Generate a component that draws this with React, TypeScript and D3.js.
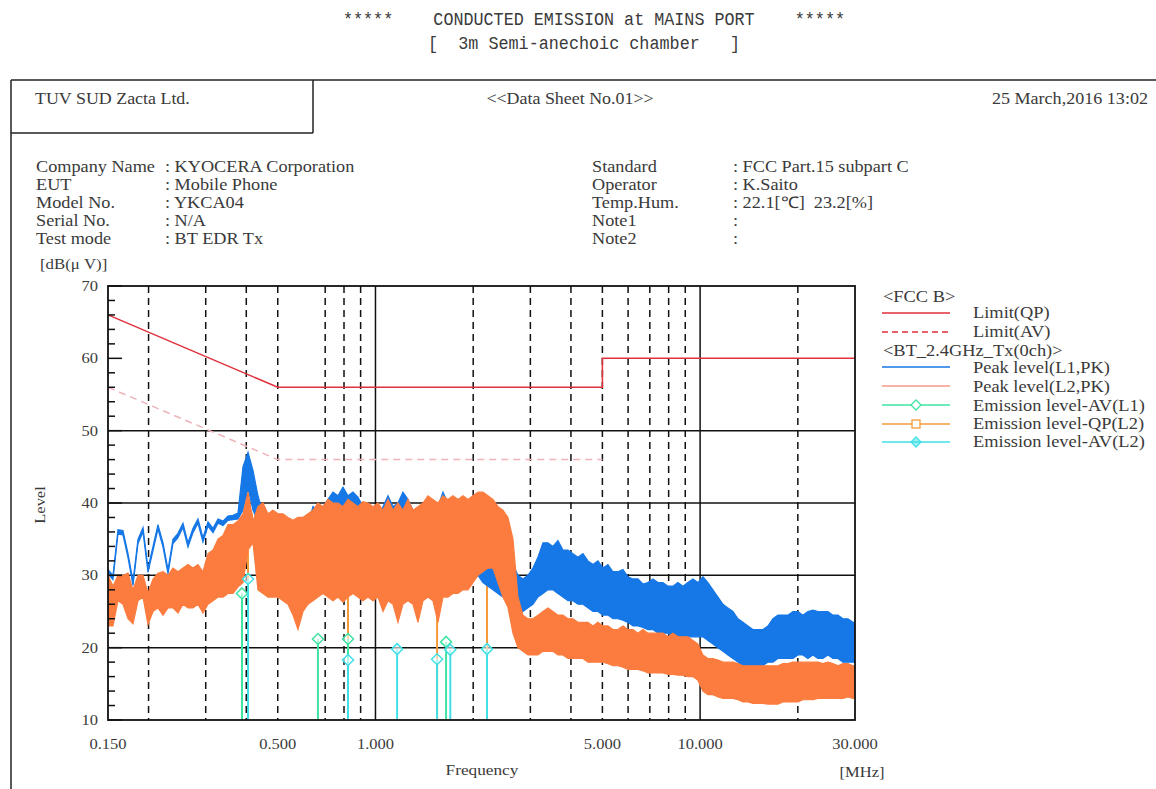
import React from "react";
import * as d3 from "d3";

// ---------- DATA ----------
// Frequency grid of the two peak traces (MHz)
const traceFreq = [
  0.1500, 0.1554, 0.1610, 0.1668, 0.1729, 0.1791, 0.1856, 0.1923, 0.1992, 0.2064,
  0.2138, 0.2216, 0.2296, 0.2378, 0.2464, 0.2553, 0.2645, 0.2741, 0.2840, 0.2942,
  0.3049, 0.3159, 0.3273, 0.3391, 0.3513, 0.3640, 0.3771, 0.3907, 0.4049, 0.4195,
  0.4346, 0.4503, 0.4665, 0.4834, 0.5008, 0.5189, 0.5376, 0.5571, 0.5772, 0.5980,
  0.6196, 0.6419, 0.6651, 0.6891, 0.7140, 0.7398, 0.7665, 0.7941, 0.8228, 0.8525,
  0.8833, 0.9152, 0.9482, 0.9824, 1.018, 1.055, 1.093, 1.132, 1.173, 1.215,
  1.259, 1.305, 1.352, 1.401, 1.451, 1.503, 1.558, 1.614, 1.672, 1.733,
  1.795, 1.860, 1.927, 1.997, 2.069, 2.143, 2.221, 2.301, 2.384, 2.470,
  2.559, 2.652, 2.747, 2.846, 2.949, 3.056, 3.166, 3.280, 3.399, 3.521,
  3.648, 3.780, 3.916, 4.058, 4.204, 4.356, 4.513, 4.676, 4.845, 5.020,
  5.201, 5.389, 5.583, 5.785, 5.994, 6.210, 6.434, 6.666, 6.907, 7.156,
  7.415, 7.682, 7.960, 8.247, 8.545, 8.853, 9.173, 9.504, 9.847, 10.20,
  10.57, 10.95, 11.35, 11.76, 12.18, 12.62, 13.08, 13.55, 14.04, 14.54,
  15.07, 15.61, 16.18, 16.76, 17.37, 17.99, 18.64, 19.32, 20.01, 20.73,
  21.48, 22.26, 23.06, 23.89, 24.76, 25.65, 26.58, 27.54, 28.53, 29.56,
  30.0,
];

// Peak level (L1,PK) envelope, dB(uV)
const l1Hi = [
  30.8, 30.0, 36.3, 36.2, 33.0, 29.2, 35.0, 36.6, 31.0, 34.0,
  37.0, 34.5, 30.8, 35.0, 35.8, 37.2, 34.5, 36.5, 37.8, 35.2,
  37.4, 36.5, 37.8, 37.5, 38.2, 38.3, 38.6, 45.0, 47.0, 44.5,
  41.0, 38.5, 37.3, 37.0, 36.5, 37.0, 37.5, 36.0, 37.0, 38.0,
  37.0, 39.5, 39.0, 39.5, 40.5, 41.5, 41.0, 42.2, 41.0, 41.5,
  40.8, 39.5, 38.0, 37.5, 37.5, 39.5, 41.0, 39.5, 40.0, 41.5,
  40.5, 39.0, 38.5, 39.5, 40.0, 38.5, 39.5, 41.5, 40.0, 39.0,
  40.5, 39.0, 38.0, 38.5, 37.5, 36.0, 35.0, 34.0, 33.0, 32.5,
  32.0, 31.5, 30.0, 29.5, 30.0, 31.0, 32.5, 34.5, 34.5, 34.0,
  34.8, 33.5, 33.5, 33.0, 32.5, 33.0, 32.0, 31.5, 32.0, 31.0,
  31.5, 30.5, 30.5, 30.8, 29.8, 29.5, 29.5, 28.8, 29.0, 29.5,
  29.0, 29.0, 28.5, 28.5, 29.0, 28.5, 29.0, 29.5, 29.0, 29.8,
  29.0, 28.0, 27.0, 26.0, 25.5, 25.0, 24.0, 23.5, 23.0, 22.5,
  22.5, 22.5, 23.0, 24.0, 24.5, 24.5, 24.5, 25.0, 25.0, 24.5,
  25.0, 25.2, 25.0, 25.0, 25.0, 24.5, 24.5, 24.0, 24.0, 23.5,
  23.5,
];
const l1Lo = [
  30.2, 29.4, 35.7, 35.6, 32.4, 28.6, 34.4, 36.0, 30.4, 33.4,
  36.4, 33.9, 30.2, 34.4, 35.2, 36.6, 33.9, 35.9, 37.2, 34.6,
  36.8, 35.9, 37.2, 36.9, 37.6, 37.7, 37.8, 39.0, 42.0, 39.0,
  37.5, 35.0, 33.0, 32.0, 31.0, 31.0, 31.0, 30.0, 30.5, 31.0,
  31.0, 32.0, 31.0, 32.0, 32.0, 33.0, 32.0, 33.0, 32.0, 32.0,
  31.0, 31.0, 31.0, 30.0, 30.0, 31.0, 31.0, 31.0, 31.0, 31.0,
  31.0, 30.0, 30.0, 31.0, 31.0, 31.0, 31.0, 32.0, 32.0, 32.0,
  32.0, 31.0, 31.0, 31.0, 30.0, 29.0, 28.5, 28.0, 27.5, 27.0,
  26.5, 26.0, 25.5, 25.0, 25.5, 26.0, 27.0, 27.5, 28.0, 28.0,
  27.5, 27.0, 26.5, 26.5, 26.0, 26.0, 25.5, 25.0, 25.0, 24.5,
  24.5, 24.0, 24.0, 23.8, 23.5, 23.0, 23.0, 22.8, 22.5, 22.5,
  22.0, 22.0, 22.0, 21.5, 21.5, 21.5, 21.5, 21.5, 21.5, 21.5,
  21.0, 20.5, 20.0, 19.5, 19.0, 18.5, 18.0, 17.5, 17.5, 17.5,
  17.5, 17.5, 18.0, 18.0, 18.5, 18.5, 18.5, 18.5, 19.0, 19.0,
  18.5, 19.0, 18.5, 18.5, 19.0, 18.5, 18.5, 18.0, 18.0, 18.0,
  18.0,
];

// Peak level (L2,PK) envelope, dB(uV)
const l2Hi = [
  30.0, 28.5, 30.0, 30.0, 30.3, 28.0, 30.0, 30.0, 27.5, 29.5,
  30.3, 30.5, 30.0, 31.0, 30.5, 31.0, 31.5, 31.0, 31.5, 30.5,
  33.0, 33.5, 35.0, 35.5, 37.0, 37.0, 37.5, 38.5, 41.5, 37.5,
  39.5, 40.0, 38.5, 39.0, 38.5, 38.5, 38.0, 37.6, 38.0, 38.0,
  38.5, 39.0, 40.0, 39.5, 40.5, 40.0, 40.0, 39.5, 40.5, 40.0,
  39.5, 40.2, 40.0, 39.5, 40.0, 39.0, 40.5, 39.0, 40.0, 39.0,
  40.5, 39.0, 39.5, 40.0, 41.0, 40.5, 40.0, 41.0, 40.5, 41.0,
  40.5, 41.0, 40.5, 41.0, 41.5, 41.5, 41.0, 40.5, 39.5, 39.0,
  38.0, 35.0, 27.0, 24.5, 24.0, 24.0, 24.5, 25.0, 25.5, 25.0,
  24.5, 24.5, 24.0, 24.0, 23.5, 23.5, 23.5, 23.0, 23.5, 23.0,
  23.0, 22.5, 22.5, 23.0, 22.5, 22.5, 22.0, 22.5, 22.0, 22.0,
  22.0, 22.0, 21.5, 22.0, 21.5, 21.5, 21.5, 21.0, 20.5, 19.0,
  18.5, 18.5, 18.3, 18.0, 18.0, 18.0, 17.8, 17.5, 17.5, 17.5,
  17.5, 17.5, 17.5, 17.5, 17.5, 17.8, 17.8, 18.0, 18.0, 18.0,
  18.0, 18.0, 18.0, 17.8, 18.0, 17.8, 17.5, 17.8, 17.8, 17.5,
  17.5,
];
const l2Lo = [
  23.0, 23.0, 26.5, 26.0, 24.0, 23.3, 26.5, 27.0, 23.2, 25.0,
  25.5, 24.5, 25.5, 25.5, 24.8, 26.0, 25.5, 25.5, 26.0, 24.8,
  26.0, 26.5, 27.0, 27.0, 27.5, 27.5, 28.4, 29.0, 33.5, 34.5,
  28.0, 27.5, 27.0, 27.0, 27.0, 26.5, 26.0, 24.5, 22.5, 25.0,
  26.0, 26.5, 27.0, 27.5, 27.0, 26.5, 27.0, 26.3, 27.0, 27.5,
  27.0, 26.5, 27.0, 26.5, 27.0, 25.0, 26.5, 26.0, 23.5, 26.0,
  26.5, 26.0, 23.5, 26.5, 27.0, 26.5, 23.5, 27.0, 27.0, 27.5,
  27.5, 28.0, 28.0, 29.0, 30.0, 30.5, 31.0, 31.0, 29.0, 27.0,
  25.6, 22.0, 20.0, 19.5, 19.0, 19.0, 19.0, 19.5, 19.5, 19.5,
  19.0, 19.0, 18.5, 18.5, 18.5, 18.5, 18.0, 18.0, 18.0, 18.0,
  17.8, 17.5, 17.5, 17.3, 17.0, 17.0, 17.0, 16.8, 16.5, 16.5,
  16.5, 16.5, 16.3, 16.3, 16.2, 16.2, 16.0, 16.0, 15.5, 14.0,
  13.5, 13.5, 13.2, 13.0, 13.0, 13.0, 12.8, 12.5, 12.5, 12.3,
  12.3, 12.3, 12.2, 12.2, 12.2, 12.5, 12.5, 12.5, 12.5, 12.8,
  12.8, 12.8, 13.0, 13.0, 13.0, 13.0, 13.0, 13.0, 13.2, 13.0,
  13.0,
];

// FCC class B limits
const limitQpFreq = [0.15, 0.5, 5, 5, 30];
const limitQpVal = [66, 56, 56, 60, 60];
const limitAvFreq = [0.15, 0.5, 5];
const limitAvVal = [56, 46, 46];

// Final measurements
const avL1Freq = [0.388, 0.665, 0.823, 1.65];
const avL1Val = [27.5, 21.2, 21.2, 20.8];
const qpL2Freq = [0.405, 0.823, 1.548, 2.206];
const qpL2Val = [38.0, 32.0, 33.0, 36.0];
const avL2Freq = [0.405, 0.823, 1.166, 1.548, 1.70, 2.206];
const avL2Val = [29.5, 18.3, 19.8, 18.4, 19.7, 19.8];

// Axes / grid
const yMajorTicks = [10, 20, 30, 40, 50, 60, 70];
const yMinorTicks = d3.range(12, 70, 2).filter((v) => v % 10 !== 0);
const yGridLines = [20, 30, 40, 50];
const xTickVals = [0.15, 0.5, 1, 5, 10, 30];
const xTickLabels = ["0.150", "0.500", "1.000", "5.000", "10.000", "30.000"];
const xGridDashed = [0.2, 0.3, 0.4, 0.5, 0.7, 0.8, 0.9, 2, 3, 4, 5, 6, 7, 8, 9, 20];
const xGridSolid = [1, 10];

const infoLeftLabels = ["Company Name", "EUT", "Model No.", "Serial No.", "Test mode"];
const infoLeftValues = [": KYOCERA Corporation", ": Mobile Phone", ": YKCA04", ": N/A", ": BT EDR Tx"];
const infoRightLabels = ["Standard", "Operator", "Temp.Hum.", "Note1", "Note2"];
const infoRightValues = [": FCC Part.15 subpart C", ": K.Saito", ": 22.1[\u2103]  23.2[%]", ":", ":"];

// ---------- STYLE ----------
const SERIF = "'Liberation Serif', 'Times New Roman', serif";
const MONO = "'Liberation Mono', 'DejaVu Sans Mono', monospace";
const TXT = "#3a3a3a";
const C_RED = "#e0313d";
const C_AV_LIMIT = "#eeb2b8";
const C_BLUE = "#1677e6";
const C_ORANGE = "#fb7c3e";
const C_AVL1 = "#3fe3a2";
const C_QPL2 = "#f39a3a";
const C_AVL2 = "#3fe0e6";

const X0 = 108, X1 = 855, Y0 = 286, Y1 = 720;
const x = d3.scaleLog().domain([0.15, 30]).range([X0, X1]);
const y = d3.scaleLinear().domain([10, 70]).range([Y1, Y0]);

type TP = {
  x: number; y: number; children: React.ReactNode; anchor?: "start" | "middle" | "end";
  size?: number; sx?: number; fill?: string; rotate?: number; family?: string;
};
const T = ({ x: tx, y: ty, children, anchor = "start", size = 16, sx = 1.14, fill = TXT, rotate = 0, family = SERIF }: TP) => (
  <text
    transform={`translate(${tx},${ty})${rotate ? ` rotate(${rotate})` : ""} scale(${sx},1)`}
    textAnchor={anchor}
    fontSize={size}
    fontFamily={family}
    fill={fill}
    style={{ whiteSpace: "pre" }}
  >
    {children}
  </text>
);

const idx = traceFreq.map((_, i) => i);
function bandPath(hi: number[], lo: number[]) {
  return d3
    .area<number>()
    .x((i) => x(traceFreq[i]))
    .y0((i) => y(lo[i]))
    .y1((i) => y(hi[i]))(idx) as string;
}
function edgePath(vals: number[]) {
  return d3
    .line<number>()
    .x((i) => x(traceFreq[i]))
    .y((i) => y(vals[i]))(idx) as string;
}
function limitPath(fs: number[], vs: number[]) {
  return d3
    .line<number>()
    .x((i) => x(fs[i]))
    .y((i) => y(vs[i]))(fs.map((_, i) => i)) as string;
}
const diamond = (cx: number, cy: number, r = 5) => `M${cx},${cy - r}L${cx + r},${cy}L${cx},${cy + r}L${cx - r},${cy}Z`;

export default function App() {
  const infoY = [172, 190, 208, 226, 244];
  const legendX0 = 882, legendX1 = 950, legendMid = 916, legendTX = 973;
  return (
    <svg
      width={1156}
      height={789}
      style={{ position: "absolute", left: 0, top: 0, background: "#fff" }}
      xmlns="http://www.w3.org/2000/svg"
    >
      <rect x={0} y={0} width={1156} height={789} fill="#fff" />

      {/* Titles */}
      <text
        transform="translate(594,25) scale(1,1.3)"
        textAnchor="middle"
        fontFamily={MONO}
        fontSize={14}
        fill={TXT}
        textLength={502}
        lengthAdjust="spacingAndGlyphs"
        style={{ whiteSpace: "pre" }}
      >
        {"*****    CONDUCTED EMISSION at MAINS PORT    *****"}
      </text>
      <text
        transform="translate(584,49) scale(1,1.3)"
        textAnchor="middle"
        fontFamily={MONO}
        fontSize={14}
        fill={TXT}
        textLength={312}
        lengthAdjust="spacingAndGlyphs"
        style={{ whiteSpace: "pre" }}
      >
        {"[  3m Semi-anechoic chamber   ]"}
      </text>

      {/* Frame */}
      <line x1={11} y1={80} x2={1156} y2={80} stroke="#222" strokeWidth={1.5} />
      <line x1={11} y1={80} x2={11} y2={789} stroke="#222" strokeWidth={1.5} />
      <line x1={11} y1={133} x2={313} y2={133} stroke="#222" strokeWidth={1.5} />
      <line x1={313} y1={80} x2={313} y2={133} stroke="#222" strokeWidth={1.5} />

      <T x={35} y={104} sx={1.12}>TUV SUD Zacta Ltd.</T>
      <T x={570} y={104} anchor="middle" sx={1.12}>{"<<Data Sheet No.01>>"}</T>
      <T x={1148} y={104} anchor="end" sx={1.13}>25 March,2016 13:02</T>

      {infoLeftLabels.map((s, i) => (
        <T key={"ll" + i} x={36} y={infoY[i]}>{s}</T>
      ))}
      {infoLeftValues.map((s, i) => (
        <T key={"lv" + i} x={165} y={infoY[i]}>{s}</T>
      ))}
      {infoRightLabels.map((s, i) => (
        <T key={"rl" + i} x={592} y={infoY[i]}>{s}</T>
      ))}
      {infoRightValues.map((s, i) => (
        <T key={"rv" + i} x={733} y={infoY[i]}>{s}</T>
      ))}

      <T x={40} y={269} size={15} sx={1.12}>[dB(μ V)]</T>

      {/* Grid */}
      {yGridLines.map((v) => (
        <line key={"hg" + v} x1={X0} x2={X1} y1={y(v)} y2={y(v)} stroke="#111" strokeWidth={1.5} />
      ))}
      {xGridDashed.map((f) => (
        <line key={"vd" + f} x1={x(f)} x2={x(f)} y1={Y0} y2={Y1} stroke="#111" strokeWidth={1.5} strokeDasharray="7,5" />
      ))}
      {xGridSolid.map((f) => (
        <line key={"vs" + f} x1={x(f)} x2={x(f)} y1={Y0} y2={Y1} stroke="#111" strokeWidth={1.5} />
      ))}

      {/* QP(L2) sticks sit beneath the traces */}
      {qpL2Freq.map((f, i) => (
        <g key={"qp" + i}>
          <line x1={x(f)} x2={x(f)} y1={Y1} y2={y(qpL2Val[i])} stroke={C_QPL2} strokeWidth={2} />
          <rect x={x(f) - 4} y={y(qpL2Val[i]) - 4} width={8} height={8} fill="none" stroke={C_QPL2} strokeWidth={1.5} />
        </g>
      ))}

      {/* Traces */}
      <path d={bandPath(l1Hi, l1Lo)} fill={C_BLUE} stroke="none" />
      <path d={edgePath(l1Hi)} fill="none" stroke={C_BLUE} strokeWidth={1.2} />
      <path d={edgePath(l1Lo)} fill="none" stroke={C_BLUE} strokeWidth={1.2} />
      <path d={bandPath(l2Hi, l2Lo)} fill={C_ORANGE} stroke="none" />
      <path d={edgePath(l2Hi)} fill="none" stroke={C_ORANGE} strokeWidth={1.2} />
      <path d={edgePath(l2Lo)} fill="none" stroke={C_ORANGE} strokeWidth={1.2} />

      {/* AV sticks */}
      {avL1Freq.map((f, i) => (
        <g key={"a1" + i}>
          <line x1={x(f)} x2={x(f)} y1={Y1} y2={y(avL1Val[i])} stroke={C_AVL1} strokeWidth={2} />
          <path d={diamond(x(f), y(avL1Val[i]), 5.5)} fill="#fff" fillOpacity={0.6} stroke={C_AVL1} strokeWidth={1.5} />
        </g>
      ))}
      {avL2Freq.map((f, i) => (
        <g key={"a2" + i}>
          <line x1={x(f)} x2={x(f)} y1={Y1} y2={y(avL2Val[i])} stroke={C_AVL2} strokeWidth={2} />
          <path d={diamond(x(f), y(avL2Val[i]), 5.5)} fill="#fff" fillOpacity={0.6} stroke={C_AVL2} strokeWidth={1.5} />
        </g>
      ))}

      {/* Limits */}
      <path d={limitPath(limitAvFreq, limitAvVal)} fill="none" stroke={C_AV_LIMIT} strokeWidth={1.5} strokeDasharray="7,5" />
      <path d={limitPath(limitQpFreq, limitQpVal)} fill="none" stroke={C_RED} strokeWidth={1.5} />

      {/* Axes frame */}
      <rect x={X0} y={Y0} width={X1 - X0} height={Y1 - Y0} fill="none" stroke="#111" strokeWidth={1.8} />
      {yMajorTicks.map((v) => (
        <line key={"ymt" + v} x1={X0} x2={X0 + 14} y1={y(v)} y2={y(v)} stroke="#111" strokeWidth={1.5} />
      ))}
      {yMinorTicks.map((v) => (
        <line key={"ymn" + v} x1={X0} x2={X0 + 7} y1={y(v)} y2={y(v)} stroke="#111" strokeWidth={1.5} />
      ))}
      {yMajorTicks.map((v) => (
        <T key={"yl" + v} x={98} y={y(v) + 5} anchor="end" size={15} sx={1.1}>{String(v)}</T>
      ))}
      {xTickVals.map((f, i) => (
        <T key={"xl" + i} x={x(f)} y={749} anchor="middle" size={15} sx={1.1}>{xTickLabels[i]}</T>
      ))}
      <T x={482} y={775} anchor="middle" size={15} sx={1.15}>Frequency</T>
      <T x={862} y={777} anchor="middle" size={15} sx={1.1}>[MHz]</T>
      <T x={45} y={505} anchor="middle" size={15} sx={1.1} rotate={-90}>Level</T>

      {/* Legend */}
      <T x={883} y={302} size={16} sx={1.15}>{"<FCC B>"}</T>
      <line x1={legendX0} x2={legendX1} y1={313} y2={313} stroke={C_RED} strokeWidth={1.5} />
      <T x={legendTX} y={318} size={16} sx={1.15}>Limit(QP)</T>
      <line x1={legendX0} x2={legendX1} y1={332} y2={332} stroke={C_RED} strokeWidth={1.5} strokeDasharray="6,4" />
      <T x={legendTX} y={337} size={16} sx={1.15}>Limit(AV)</T>
      <T x={883} y={356} size={16} sx={1.15}>{"<BT_2.4GHz_Tx(0ch)>"}</T>
      <line x1={legendX0} x2={legendX1} y1={367} y2={367} stroke={C_BLUE} strokeWidth={1.5} />
      <T x={legendTX} y={373} size={16} sx={1.15}>Peak level(L1,PK)</T>
      <line x1={legendX0} x2={legendX1} y1={386} y2={386} stroke="#f39a84" strokeWidth={1.5} />
      <T x={legendTX} y={392} size={16} sx={1.15}>Peak level(L2,PK)</T>
      <line x1={legendX0} x2={legendX1} y1={405} y2={405} stroke={C_AVL1} strokeWidth={1.5} />
      <path d={diamond(legendMid, 405, 5)} fill="#fff" stroke={C_AVL1} strokeWidth={1.3} />
      <T x={legendTX} y={411} size={16} sx={1.15}>Emission level-AV(L1)</T>
      <line x1={legendX0} x2={legendX1} y1={424} y2={424} stroke={C_QPL2} strokeWidth={1.5} />
      <rect x={legendMid - 4} y={420} width={8} height={8} fill="#fff" stroke={C_QPL2} strokeWidth={1.3} />
      <T x={legendTX} y={429} size={16} sx={1.15}>Emission level-QP(L2)</T>
      <line x1={legendX0} x2={legendX1} y1={442} y2={442} stroke={C_AVL2} strokeWidth={1.5} />
      <path d={diamond(legendMid, 442, 5)} fill={C_AVL2} fillOpacity={0.5} stroke={C_AVL2} strokeWidth={1.3} />
      <T x={legendTX} y={447} size={16} sx={1.15}>Emission level-AV(L2)</T>
    </svg>
  );
}
